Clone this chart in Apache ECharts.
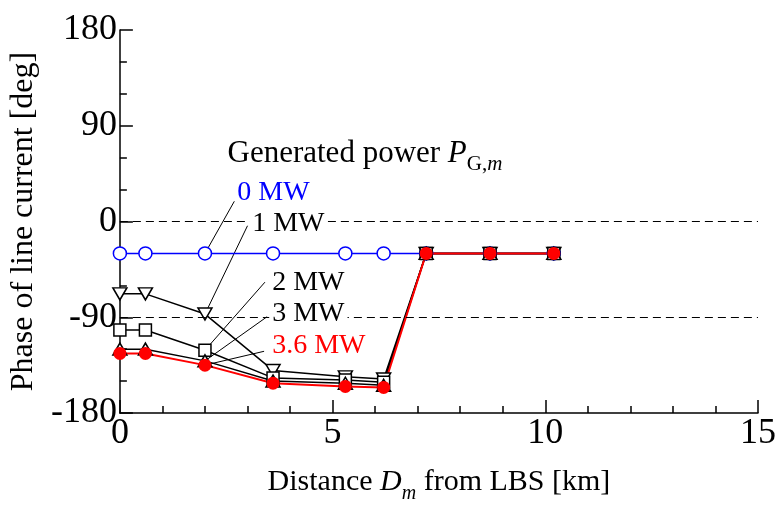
<!DOCTYPE html>
<html><head><meta charset="utf-8">
<script src="https://cdn.jsdelivr.net/npm/echarts@6/dist/echarts.min.js"></script>
<style>html,body{margin:0;padding:0;background:#fff}#c{width:779px;height:509px}</style>
</head><body><div id="c"></div>
<script>
// ---- data ----
const distanceKm = [0, 0.6, 2.0, 3.6, 5.3, 6.2, 7.2, 8.7, 10.2];
const phase0MW  = [-30, -30, -30, -30, -30, -30, -30, -30, -30];
const phase1MW  = [-68, -68, -87, -140, -146, -148, -30, -30, -30];
const phase2MW  = [-102, -102, -121, -147, -149, -151, -30, -30, -30];
const phase3MW  = [-120, -120, -131, -150, -152, -154, -30, -30, -30];
const phase36MW = [-124, -124, -135, -152, -155, -156, -30, -30, -30];
const seriesNames = ['0 MW', '1 MW', '2 MW', '3 MW', '3.6 MW'];
const xTickValues = [0, 5, 10, 15];
const yTickValues = [-180, -90, 0, 90, 180];
const dashedRefLines = [0, -90];
// annotation anchors (data coords): label left-middle, leader start, leader end
const labelAnchors = [[2.69, 27.4], [3.04, -2.3], [3.51, -57], [3.51, -86.7], [3.51, -116.4]];
const leaderStarts = [[2.69, 19], [3.0, -4], [3.41, -57], [3.46, -89.5], [3.39, -122]];
const leaderEnds   = [[2.0, -30], [2.0, -87], [2.0, -121], [2.0, -131], [2.0, -135]];
const titleAnchor = [2.53, 63.5];

const FONT = 'Liberation Serif';
const pairs = v => distanceKm.map((x, i) => [x, v[i]]);

const chart = echarts.init(document.getElementById('c'), null, {renderer: 'canvas'});

const leaderSeries = leaderStarts.map((s, i) => ({
  type: 'line', data: [s, leaderEnds[i]], symbol: 'none', silent: true,
  lineStyle: {color: '#000', width: 1}, animation: false,
  markLine: i === 0 ? {
    symbol: 'none', silent: true, label: {show: false},
    lineStyle: {type: [8, 5], color: '#000', width: 1},
    data: dashedRefLines.map(v => ({yAxis: v}))
  } : undefined
}));

const blackStyle = {color: '#fff', borderColor: '#000', borderWidth: 1.5};
const dataSeries = [
  {name: seriesNames[0], data: pairs(phase0MW), symbol: 'circle', symbolSize: 13,
   itemStyle: {color: '#fff', borderColor: '#0000ff', borderWidth: 1.5},
   lineStyle: {color: '#0000ff', width: 1.5}},
  {name: seriesNames[1], data: pairs(phase1MW), symbol: 'triangle', symbolRotate: 180, symbolSize: [14, 12],
   itemStyle: blackStyle, lineStyle: {color: '#000', width: 1.5}},
  {name: seriesNames[2], data: pairs(phase2MW), symbol: 'rect', symbolSize: 12,
   itemStyle: blackStyle, lineStyle: {color: '#000', width: 1.5}},
  {name: seriesNames[3], data: pairs(phase3MW), symbol: 'triangle', symbolSize: [14, 12],
   itemStyle: blackStyle, lineStyle: {color: '#000', width: 1.5}},
  {name: seriesNames[4], data: pairs(phase36MW), symbol: 'circle', symbolSize: 13,
   itemStyle: {color: '#ff0000', borderColor: '#ff0000', borderWidth: 0},
   lineStyle: {color: '#ff0000', width: 2}}
].map(s => Object.assign({type: 'line', showAllSymbol: true, animation: false}, s));

const axisCommon = {
  axisLine: {show: true, onZero: false, lineStyle: {color: '#000', width: 1.5}},
  axisTick: {show: true, inside: true, length: 13, lineStyle: {color: '#000', width: 1.5}},
  splitLine: {show: false},
  minorSplitLine: {show: false}
};

chart.setOption({
  animation: false,
  backgroundColor: '#fff',
  textStyle: {fontFamily: FONT},
  grid: {left: 116, right: 19, top: 30, bottom: 91, containLabel: false},
  xAxis: Object.assign({
    type: 'value', min: xTickValues[0], max: xTickValues[xTickValues.length - 1],
    interval: xTickValues[1] - xTickValues[0],
    minorTick: {show: true, splitNumber: 5, length: 7, lineStyle: {color: '#000', width: 1.5}},
    axisLabel: {fontSize: 36, color: '#000', fontFamily: FONT, margin: 3},
    name: 'Distance {i|D}{s|m} from LBS [km]', nameLocation: 'middle', nameGap: 47,
    nameTextStyle: {fontSize: 30, color: '#000', fontFamily: FONT, lineHeight: 44,
      rich: {i: {fontSize: 30, fontStyle: 'italic', fontFamily: FONT, color: '#000', lineHeight: 44},
             s: {fontSize: 20, fontStyle: 'italic', fontFamily: FONT, color: '#000', lineHeight: 20, verticalAlign: 'bottom'}}}
  }, axisCommon),
  yAxis: Object.assign({
    type: 'value', min: yTickValues[0], max: yTickValues[yTickValues.length - 1],
    interval: yTickValues[1] - yTickValues[0],
    minorTick: {show: true, splitNumber: 3, length: 7, lineStyle: {color: '#000', width: 1.5}},
    axisLabel: {fontSize: 36, color: '#000', fontFamily: FONT, margin: 3},
    name: 'Phase of line current [deg]', nameLocation: 'middle', nameGap: 67, nameRotate: 90,
    nameTextStyle: {fontSize: 32, color: '#000', fontFamily: FONT}
  }, axisCommon),
  series: leaderSeries.concat(dataSeries)
});

// annotations placed at data coordinates
const px = p => chart.convertToPixel({gridIndex: 0}, p);
const labelColors = ['#0000ff', '#000', '#000', '#000', '#ff0000'];
const graphics = [];
const t = px(titleAnchor);
graphics.push({type: 'text', x: t[0], y: t[1], z: 100, silent: true,
  style: {text: 'Generated power {i|P}{s|G,}{si|m}', fill: '#000', fontSize: 31, fontFamily: FONT,
    verticalAlign: 'middle', lineHeight: 42,
    rich: {i: {fontSize: 31, fontStyle: 'italic', fontFamily: FONT, fill: '#000', lineHeight: 42},
           s: {fontSize: 21, fontFamily: FONT, fill: '#000', lineHeight: 21, verticalAlign: 'bottom'},
           si: {fontSize: 21, fontStyle: 'italic', fontFamily: FONT, fill: '#000', lineHeight: 21, verticalAlign: 'bottom'}}}});
labelAnchors.forEach((a, i) => {
  const p = px(a);
  graphics.push({type: 'text', x: p[0], y: p[1], z: 100, silent: true,
    style: {text: seriesNames[i], fill: labelColors[i], fontSize: 28, fontFamily: FONT,
      verticalAlign: 'middle', backgroundColor: (i === 1 || i === 3) ? '#fff' : null,
      padding: [0, 3, 0, 3]}});
});
chart.setOption({graphic: graphics});
</script></body></html>
